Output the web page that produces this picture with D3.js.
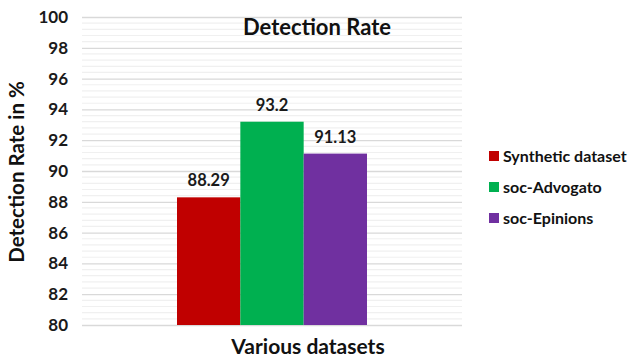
<!DOCTYPE html>
<html>
<head>
<meta charset="utf-8">
<script src="https://cdn.jsdelivr.net/npm/d3@7"></script>
<style>
  html, body { margin: 0; padding: 0; background: #fff; }
  svg { display: block; font-family: Lato, "Open Sans", sans-serif; font-weight: bold; }
</style>
</head>
<body>
<svg id="chart" width="631" height="360"></svg>
<script>
// Detection rate per dataset
const seriesNames = ["Synthetic dataset", "soc-Advogato", "soc-Epinions"];
const seriesValues = [88.29, 93.2, 91.13];
const seriesColors = ["#C00000", "#00B050", "#7030A0"];
const categories = ["Various datasets"];
const yTicks = [80, 82, 84, 86, 88, 90, 92, 94, 96, 98, 100];

const svg = d3.select("#chart");
const plot = { left: 82, right: 462, top: 17, bottom: 325 };

const y = d3.scaleLinear().domain([80, 100]).range([plot.bottom, plot.top]);
const x0 = d3.scaleBand().domain(categories).range([plot.left, plot.right]).paddingInner(0).paddingOuter(0.5);
const x1 = d3.scaleBand().domain(seriesNames).range([0, x0.bandwidth()]);

// minor gridlines every 0.4
const minor = d3.range(80, 100.001, 0.4).filter(v => Math.abs(v / 2 - Math.round(v / 2)) > 1e-6);
svg.append("g").selectAll("line").data(minor).join("line")
  .attr("x1", plot.left).attr("x2", plot.right)
  .attr("y1", d => y(d)).attr("y2", d => y(d))
  .attr("stroke", "#f0f0f0").attr("stroke-width", 1.2);

// major gridlines and tick labels
const yAxis = d3.axisLeft(y).tickValues(yTicks).tickSize(-(plot.right - plot.left)).tickPadding(14);
const gy = svg.append("g").attr("transform", `translate(${plot.left},0)`).call(yAxis);
gy.select(".domain").remove();
gy.selectAll(".tick line").attr("stroke", "#d9d9d9").attr("stroke-width", 1.3);
gy.selectAll(".tick text").attr("fill", "#1a1a1a").attr("font-size", 17).attr("font-weight", "bold")
  .attr("font-family", "Lato, sans-serif");

// bars
const data = seriesNames.map((n, i) => ({ name: n, value: seriesValues[i], color: seriesColors[i] }));
const g = svg.append("g").attr("transform", `translate(${x0(categories[0])},0)`);
g.selectAll("rect").data(data).join("rect")
  .attr("x", d => x1(d.name))
  .attr("width", x1.bandwidth())
  .attr("y", d => y(d.value))
  .attr("height", d => y(80) - y(d.value))
  .attr("fill", d => d.color);

g.selectAll("text").data(data).join("text")
  .attr("x", d => x1(d.name) + x1.bandwidth() / 2)
  .attr("y", d => y(d.value) - 11)
  .attr("text-anchor", "middle")
  .attr("font-size", 16.5)
  .attr("fill", "#1a1a1a")
  .text(d => d.value);

// title
svg.append("text").attr("x", 317).attr("y", 35).attr("text-anchor", "middle")
  .attr("font-size", 22).attr("fill", "#111").text("Detection Rate");

// axis titles
svg.append("text").attr("x", 308).attr("y", 354).attr("text-anchor", "middle")
  .attr("font-size", 21).attr("fill", "#111").text(categories[0]);
svg.append("text").attr("transform", "translate(24,172) rotate(-90)").attr("text-anchor", "middle")
  .attr("font-size", 20.5).attr("fill", "#111").text("Detection Rate in %");

// legend
const lg = svg.append("g").attr("transform", "translate(489,156)");
const items = lg.selectAll("g").data(data).join("g").attr("transform", (d, i) => `translate(0,${i * 31})`);
items.append("rect").attr("x", 0).attr("y", -5).attr("width", 10).attr("height", 10).attr("fill", d => d.color);
items.append("text").attr("x", 14).attr("y", 5.5).attr("font-size", 16).attr("fill", "#111").text(d => d.name);
</script>
</body>
</html>
